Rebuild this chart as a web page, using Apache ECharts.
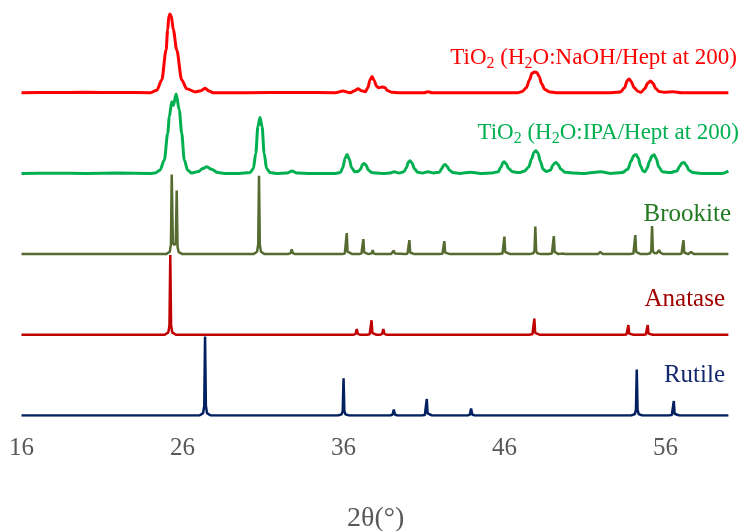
<!DOCTYPE html>
<html>
<head>
<meta charset="utf-8">
<script src="https://cdn.jsdelivr.net/npm/echarts@6/dist/echarts.min.js"></script>
<style>html,body{margin:0;padding:0;background:#fff;}#c{width:742px;height:531px;}</style>
</head>
<body>
<div id="c"></div>
<script>
// x tick labels (2θ, degrees)
const xTicks = [16, 26, 36, 46, 56];

// Relative intensities, [2θ, intensity]
const rutile = [
  [16,0],
  [27.05,0],[27.28,3],[27.35,12],[27.4,98],[27.45,12],[27.52,3],[27.75,0],
  [35.65,0],[35.88,1.4],[35.95,5.5],[36.0,46],[36.05,5.5],[36.12,1.4],[36.35,0],
  [38.9,0],[39.05,1.2],[39.12,7.5],[39.19,1.2],[39.35,0],
  [40.85,0],[41.05,0.6],[41.12,2.5],[41.17,20.5],[41.22,2.5],[41.29,0.6],[41.5,0],
  [43.7,0],[43.85,1.2],[43.92,8.7],[43.99,1.2],[44.15,0],
  [53.86,0],[54.09,1.7],[54.16,7],[54.21,57],[54.26,7],[54.33,1.7],[54.56,0],
  [56.2,0],[56.39,0.6],[56.46,2.2],[56.51,18],[56.56,2.2],[56.63,0.6],[56.85,0],
  [59.9,0]
];

const anatase = [
  [16,0],
  [24.89,0],[25.12,3],[25.19,12],[25.24,99],[25.29,12],[25.36,3],[25.59,0],
  [36.6,0],[36.75,1.2],[36.82,7],[36.89,1.2],[37.05,0],
  [37.45,0],[37.62,0.6],[37.69,2.2],[37.74,18],[37.79,2.2],[37.86,0.6],[38.05,0],
  [38.25,0],[38.4,1.2],[38.47,7],[38.54,1.2],[38.7,0],
  [47.5,0],[47.73,0.6],[47.8,2.4],[47.85,20],[47.9,2.4],[47.97,0.6],[48.2,0],
  [53.4,0],[53.57,0.4],[53.64,1.5],[53.69,12],[53.74,1.5],[53.81,0.4],[54.0,0],
  [54.6,0],[54.77,0.4],[54.84,1.5],[54.89,12],[54.94,1.5],[55.01,0.4],[55.2,0],
  [59.9,0]
];

const brookite = [
  [16,0],
  [24.98,0],[25.21,3],[25.28,12],[25.33,98.5],[25.4,14],[25.49,11],[25.58,14],[25.64,78.7],[25.69,9.5],[25.76,2.4],[26.0,0],
  [30.4,0],[30.63,3],[30.7,12],[30.75,97],[30.8,12],[30.87,3],[31.1,0],
  [32.55,0],[32.71,1.2],[32.78,6],[32.85,1.2],[33.0,0],
  [35.9,0],[36.08,0.8],[36.15,3],[36.2,26],[36.25,3],[36.32,0.8],[36.55,0],
  [36.95,0],[37.11,0.6],[37.18,2.2],[37.23,18.6],[37.28,2.2],[37.35,0.6],[37.55,0],
  [37.65,0],[37.75,1],[37.81,5],[37.87,1],[38.0,0],
  [38.95,0],[39.06,0.8],[39.12,4.3],[39.18,0.8],[39.3,0],
  [39.8,0],[39.97,0.5],[40.04,2],[40.09,17.3],[40.14,2],[40.21,0.5],[40.4,0],
  [41.95,0],[42.14,0.5],[42.21,2],[42.26,16],[42.31,2],[42.38,0.5],[42.6,0],
  [45.65,0],[45.87,0.7],[45.94,2.6],[45.99,21.7],[46.04,2.6],[46.11,0.7],[46.35,0],
  [47.55,0],[47.79,1],[47.86,4],[47.91,34],[47.96,4],[48.03,1],[48.25,0],
  [48.75,0],[48.94,0.7],[49.01,2.7],[49.06,22.3],[49.11,2.7],[49.18,0.7],[49.35,0],
  [49.45,0],[49.55,0.6],[49.61,2.5],[49.67,0.6],[49.8,0],
  [51.8,0],[51.89,0.6],[51.95,2.5],[52.01,0.6],[52.1,0],
  [53.8,0],[54.0,0.7],[54.07,2.8],[54.12,23.5],[54.17,2.8],[54.24,0.7],[54.45,0],
  [54.85,0],[55.04,1],[55.11,4.2],[55.16,34.7],[55.21,4.2],[55.28,1.5],[55.45,1.2],[55.56,2],[55.61,5],[55.66,2],[55.85,0],
  [56.8,0],[56.99,0.5],[57.06,2],[57.11,17.3],[57.16,2],[57.23,0.5],[57.4,0],
  [57.45,0],[57.52,0.6],[57.58,2.5],[57.64,0.6],[57.75,0],
  [59.9,0]
];

const tio2Ipa = [
  [16,0],[18,0.3],[20,0],[22,0.4],[24,0],[24.3,0.5],[24.6,4],[24.87,16.5],[25.08,49.6],[25.18,70],[25.33,88.7],
  [25.43,84],[25.6,98.3],[25.8,78.5],[25.95,49.6],[26.11,16.5],[26.32,4],[26.57,0.5],
  [27.0,2.5],[27.25,6],[27.5,8.3],[27.8,5],[28.2,1],[28.6,0],[29.5,0],
  [30.2,1],[30.4,6],[30.55,25],[30.68,58],[30.81,69.4],[30.94,58],[31.07,25],[31.22,6],[31.45,1],[31.8,0],
  [32.5,0.5],[32.8,3],[33.1,0.5],[34,0],[35.5,0],
  [35.8,1],[35.95,7],[36.1,19],[36.22,23.5],[36.35,18],[36.5,7],[36.7,2],
  [36.9,2.5],[37.05,5],[37.18,11],[37.28,12.4],[37.4,10],[37.55,4],[37.75,1],
  [38.0,0.5],[38.5,0],[38.9,0.5],[39.14,2],[39.45,0.5],
  [39.75,2],[39.9,7],[40.03,14],[40.13,15.6],[40.25,13],[40.4,6],[40.6,1.5],[40.9,0.5],[41.25,2],[41.6,0.5],
  [41.95,1.5],[42.1,6],[42.22,10],[42.3,11],[42.42,9],[42.58,4],[42.8,1],[43.2,0],[43.9,1.5],[44.5,0],[45.2,0.5],
  [45.6,2],[45.78,8],[45.9,13.5],[45.97,14.4],[46.1,12],[46.25,6],[46.5,2],[46.9,1],[47.25,3],
  [47.5,8],[47.68,18],[47.82,26],[47.95,28],[48.08,25],[48.22,15],[48.4,5],[48.58,2.5],
  [48.85,4],[49.0,10],[49.12,13],[49.2,13.6],[49.32,11],[49.5,5],[49.75,1.5],[50.2,0.5],[51.0,0],[52.0,2],[52.6,0],[53.3,1],
  [53.65,5],[53.85,15],[54.02,22],[54.17,23.5],[54.3,19],[54.45,9],[54.6,3],[54.72,2],
  [54.85,6],[55.0,15],[55.15,21.5],[55.29,23],[55.42,18],[55.58,8],[55.8,2],[56.3,1],
  [56.7,3],[56.88,9],[57.02,13],[57.15,13.6],[57.28,10],[57.45,4],[57.7,1],[58.2,0],[59.5,0],[59.9,3]
];

const tio2NaOH = [
  [16,0],[18,0.3],[20,0.5],[22,0.2],[24,0],[24.4,3],[24.71,15.7],[24.98,53],[25.08,78],[25.15,95],[25.22,97.5],
  [25.3,95],[25.43,78],[25.64,53],[25.95,15.7],[26.26,5],[26.78,1],
  [27.15,2.5],[27.4,5.5],[27.65,2],[27.9,0],[30,0],[33,0.3],[35.5,0],
  [35.97,2],[36.4,0],[36.7,2.5],[36.9,5],[37.1,2.5],[37.35,1.2],[37.5,6],[37.65,16],[37.77,20],[37.9,15],
  [38.05,8],[38.2,6],[38.4,7],[38.55,6.5],[38.75,2.5],[39.0,0.5],[39.5,0],
  [41.0,0],[41.25,1.2],[41.5,0],
  [46.8,0],[47.1,1.5],[47.35,6],[47.55,16],[47.7,24],[47.85,25.6],[48.0,25],[48.15,20],[48.3,11],[48.5,4],[48.8,1],[49.2,0],
  [52.5,0],[53.0,0.5],[53.2,1],[53.45,6],[53.62,15],[53.74,17],[53.86,14],[54.05,6],[54.3,1.5],[54.48,0.5],
  [54.7,5],[54.9,12],[55.06,14.5],[55.2,12],[55.4,5],[55.6,1.5],[55.9,0.5],[56.47,1.2],[57,0],[59.9,0]
];

function shift(data, off) { return data.map(p => [p[0], p[1] + off]); }

const FONT = '"Liberation Serif", "Times New Roman", serif';

function label(text, color, size, right, top) {
  return {
    text: text, right: right, top: top, padding: 0,
    textStyle: {
      fontWeight: 'normal',
      rich: {
        a: { fontFamily: FONT, fontSize: size, fontWeight: 'normal', color: color, lineHeight: 28 },
        s: { fontFamily: FONT, fontSize: 16, fontWeight: 'normal', color: color, lineHeight: 18, verticalAlign: 'bottom' }
      }
    }
  };
}

const chart = echarts.init(document.getElementById('c'), null, { renderer: 'canvas' });
chart.setOption({
  animation: false,
  backgroundColor: '#ffffff',
  title: [
    label('{a|TiO}{s|2}{a| (H}{s|2}{a|O:NaOH/Hept at 200)}', '#FF0000', 23, 5, 44),
    label('{a|TiO}{s|2}{a| (H}{s|2}{a|O:IPA/Hept at 200)}', '#00B050', 23, 3, 119),
    label('{a|Brookite}', '#217A21', 25, 11, 200),
    label('{a|Anatase}', '#A00000', 25, 17, 285),
    label('{a|Rutile}', '#14286E', 25, 17, 361)
  ],
  grid: { left: 21.5, right: 12, top: 12, bottom: 115.5, containLabel: false, outerBoundsMode: 'none' },
  xAxis: {
    type: 'value', min: 16, max: 60,
    name: '2θ(°)', nameLocation: 'middle', nameGap: 89,
    nameTextStyle: { fontFamily: FONT, fontSize: 28, color: '#595959' },
    axisLine: { show: false }, axisTick: { show: false }, splitLine: { show: false },
    axisLabel: { customValues: xTicks, margin: 20, fontFamily: FONT, fontSize: 25, color: '#595959' }
  },
  yAxis: { type: 'value', min: 0, max: 500, show: false, splitLine: { show: false } },
  series: [
    { name: 'Rutile', type: 'line', data: shift(rutile, 0), showSymbol: false, smooth: false,
      lineStyle: { color: '#002060', width: 2.5 }, itemStyle: { color: '#002060' } },
    { name: 'Anatase', type: 'line', data: shift(anatase, 100), showSymbol: false, smooth: false,
      lineStyle: { color: '#C00000', width: 2.5 }, itemStyle: { color: '#C00000' } },
    { name: 'Brookite', type: 'line', data: shift(brookite, 200), showSymbol: false, smooth: false,
      lineStyle: { color: '#556B2F', width: 2.5 }, itemStyle: { color: '#556B2F' } },
    { name: 'TiO2 (H2O:IPA/Hept at 200)', type: 'line', data: shift(tio2Ipa, 300), showSymbol: false,
      smooth: 0.3, smoothMonotone: 'x',
      lineStyle: { color: '#00B050', width: 3 }, itemStyle: { color: '#00B050' } },
    { name: 'TiO2 (H2O:NaOH/Hept at 200)', type: 'line', data: shift(tio2NaOH, 400), showSymbol: false,
      smooth: 0.3, smoothMonotone: 'x',
      lineStyle: { color: '#FF0000', width: 3 }, itemStyle: { color: '#FF0000' } }
  ]
});
</script>
</body>
</html>
